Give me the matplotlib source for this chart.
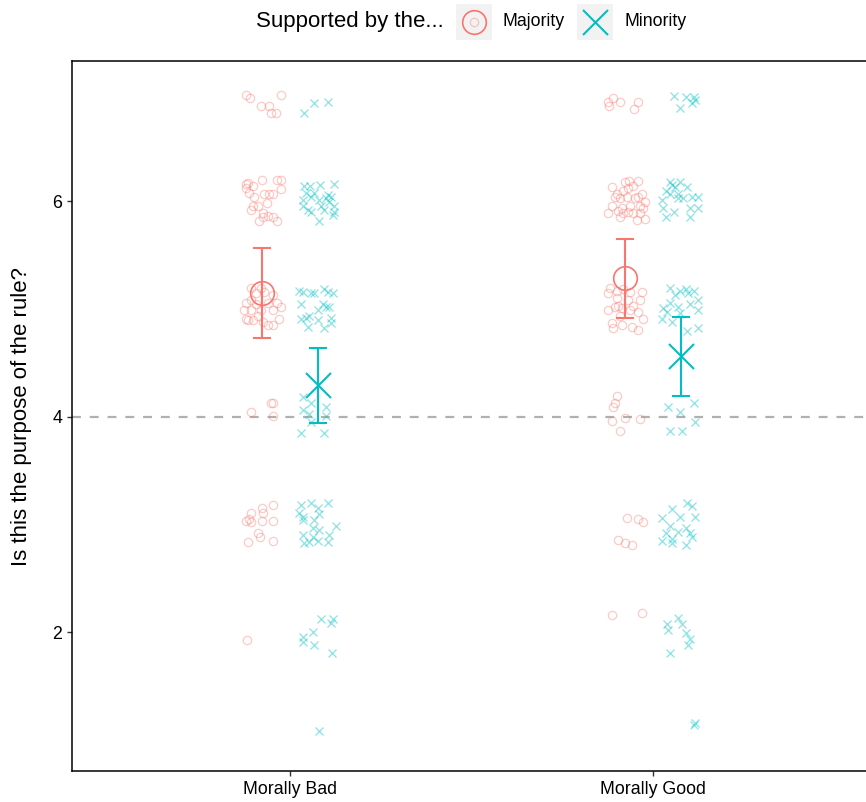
import numpy as np
import matplotlib.pyplot as plt
from matplotlib.lines import Line2D
from matplotlib.patches import Rectangle

plt.rcParams['font.family'] = ['Liberation Sans', 'DejaVu Sans']

# categories
conditions = ["Morally Bad", "Morally Good"]
groups = ["Majority", "Minority"]
colors = {"Majority": "#F8766D", "Minority": "#00BFC4"}

# group means and 95% CI
means = {("Morally Bad", "Majority"): 5.146, ("Morally Bad", "Minority"): 4.292,
         ("Morally Good", "Majority"): 5.285, ("Morally Good", "Minority"): 4.561}
ci_lo = {("Morally Bad", "Majority"): 4.729, ("Morally Bad", "Minority"): 3.940,
         ("Morally Good", "Majority"): 4.914, ("Morally Good", "Minority"): 4.190}
ci_hi = {("Morally Bad", "Majority"): 5.564, ("Morally Bad", "Minority"): 4.636,
         ("Morally Good", "Majority"): 5.647, ("Morally Good", "Minority"): 4.923}

# raw (jittered) responses: horizontal jitter and jittered rating
bad_maj_dx = [-0.046, -0.035, 0.051, -0.004, 0.018, 0.023, 0.037,
              -0.046, -0.046, -0.026, -0.002, 0.042, 0.051, 0.051, 0.004, 0.029, 0.018, -0.024, -0.026,
              -0.013, 0.012, -0.032, 0.001, 0.001, 0.015, 0.031, 0.042, -0.010, -0.040, -0.037,
              -0.032, -0.004, -0.046, -0.032, -0.018, 0.015, 0.042, 0.051, -0.051, -0.032, -0.004,
              0.029, -0.046, -0.026, 0.045, 0.015, 0.029, 0.004, -0.018, 0.031, -0.013, 0.001, -0.040,
              -0.032, 0.023, 0.031, 0.029,
              -0.002, 0.001, 0.031, -0.032, -0.046, -0.037, -0.032, -0.002, 0.029, -0.013, -0.007,
              -0.040, 0.029,
              -0.043]
bad_maj_y = [6.99, 6.96, 6.99, 6.88, 6.88, 6.82, 6.82,
             6.16, 6.12, 6.14, 6.20, 6.20, 6.20, 6.11, 6.07, 6.07, 6.07, 6.04, 5.96,
             5.96, 5.98, 5.92, 5.89, 5.85, 5.86, 5.85, 5.82, 5.82, 6.17, 6.08,
             5.20, 5.20, 5.06, 5.08, 5.05, 5.06, 5.06, 5.02, 4.99, 4.99, 4.99,
             4.99, 4.91, 4.90, 4.91, 4.85, 4.85, 5.16, 5.15, 5.13, 4.94, 4.88, 4.90,
             4.04, 4.13, 4.13, 4.01,
             3.15, 3.11, 3.18, 3.11, 3.03, 3.05, 3.02, 3.03, 3.03, 2.92, 2.88,
             2.84, 2.85,
             1.93]

bad_min_dx = [-0.011, 0.028, -0.039,
              -0.039, -0.022, 0.006, 0.044, -0.041, -0.019, -0.041, -0.028, 0.003, 0.022, 0.036,
              0.030, 0.008, 0.044, 0.003, 0.041, -0.033, -0.011, 0.017, 0.044, 0.028, -0.019,
              -0.052, -0.041, -0.019, 0.017, 0.041, 0.028, -0.047, 0.014, 0.022, 0.030, -0.025,
              -0.047, -0.033, 0.000, 0.017, 0.036, -0.028, 0.000, -0.011, 0.036,
              -0.041, -0.019, 0.022, -0.041, -0.025, 0.022, -0.019, -0.047, 0.017,
              -0.047, -0.019, 0.028, 0.000, -0.052, 0.003, -0.041, -0.041, -0.011, 0.050,
              -0.014, 0.003, -0.041, -0.014, 0.030, -0.039, 0.000, 0.028, -0.025,
              0.008, 0.041, 0.036, -0.014, -0.041, -0.041, -0.011, 0.039,
              0.003]
bad_min_y = [6.91, 6.92, 6.82,
             6.14, 6.14, 6.15, 6.16, 6.01, 6.04, 5.96, 5.92, 6.01, 6.03, 6.04,
             5.99, 5.96, 5.96, 5.82, 5.87, 6.08, 6.08, 5.92, 5.90, 6.06, 5.90,
             5.17, 5.16, 5.15, 5.19, 5.15, 5.16, 5.05, 5.05, 5.02, 5.02, 4.94,
             4.91, 4.92, 4.90, 4.82, 4.87, 4.83, 4.99, 5.15, 4.92,
             4.18, 4.13, 4.09, 4.06, 4.03, 4.01, 3.95, 3.85, 3.85,
             3.18, 3.20, 3.20, 3.15, 3.11, 3.10, 3.07, 3.04, 3.04, 2.99,
             2.97, 2.95, 2.90, 2.88, 2.90, 2.83, 2.85, 2.84, 2.84,
             2.12, 2.12, 2.09, 2.00, 1.96, 1.91, 1.88, 1.81,
             1.08]

good_maj_dx = [-0.047, -0.033, -0.014, -0.044, 0.036, 0.025,
               -0.036, 0.000, 0.011, 0.036, 0.022, -0.022, -0.006, 0.008, 0.047, 0.028, -0.014,
               0.036, 0.055, 0.041, 0.050, -0.036, -0.008, 0.014, -0.047, -0.019, -0.006, 0.008,
               0.022, 0.041, 0.033, 0.055, -0.014, -0.028, 0.006,
               -0.041, -0.022, -0.047, -0.006, 0.014, 0.047, -0.022, 0.008, 0.041, -0.047, -0.028,
               -0.008, 0.014, 0.036, -0.014, 0.050, -0.036, -0.008, 0.019, 0.036, -0.033, -0.019,
               0.022,
               -0.022, -0.028, -0.033, -0.036, 0.000, 0.041, -0.014,
               0.006, 0.036, 0.050, -0.019, 0.000, 0.019,
               -0.036, 0.047]
good_maj_y = [6.92, 6.96, 6.92, 6.88, 6.92, 6.86,
              6.13, 6.18, 6.19, 6.19, 6.14, 6.07, 6.10, 6.12, 6.07, 6.03, 6.03,
              6.04, 5.99, 5.96, 5.94, 5.96, 5.94, 5.96, 5.89, 5.91, 5.89, 5.90,
              5.89, 5.89, 5.83, 5.84, 5.85, 6.04, 6.04,
              5.20, 5.17, 5.15, 5.19, 5.16, 5.16, 5.10, 5.08, 5.08, 4.99, 5.02,
              5.01, 4.99, 4.97, 4.94, 4.91, 4.87, 4.85, 4.83, 4.81, 4.82, 5.03,
              5.03,
              4.19, 4.13, 4.09, 3.96, 3.99, 3.98, 3.87,
              3.06, 3.05, 3.02, 2.86, 2.83, 2.81,
              2.16, 2.18]

good_min_dx = [-0.020, 0.013, 0.035, -0.001, 0.032, 0.040,
               -0.029, -0.001, -0.042, -0.015, -0.023, 0.018, 0.032, 0.048, -0.009, 0.007, -0.051,
               -0.048, -0.020, -0.042, 0.026, 0.046, 0.026, -0.029, -0.007,
               -0.029, -0.001, 0.013, 0.035, -0.015, 0.021, -0.029, 0.046, -0.009, -0.048, -0.037,
               0.048, -0.051, -0.023, -0.001, 0.018, 0.048, 0.026,
               -0.034, -0.001, 0.035, 0.040, -0.029, 0.004,
               0.018, 0.032, -0.023, -0.051, -0.001, 0.040, -0.029, 0.013, -0.007, -0.042, 0.026,
               0.032, -0.023, -0.051, -0.023, 0.013,
               -0.037, -0.009, 0.004, -0.034, 0.013, 0.026, 0.021, -0.029,
               0.040, 0.035]
good_min_y = [6.98, 6.97, 6.97, 6.87, 6.91, 6.94,
              6.18, 6.18, 6.10, 6.13, 6.15, 6.13, 6.04, 6.04, 6.03, 6.03, 6.01,
              5.94, 5.90, 5.85, 5.85, 5.94, 5.94, 6.07, 6.07,
              5.20, 5.17, 5.19, 5.17, 5.13, 5.15, 5.06, 5.08, 5.02, 5.01, 4.97,
              4.99, 4.91, 4.88, 4.96, 4.80, 4.82, 5.05,
              4.09, 4.04, 4.13, 3.95, 3.87, 3.87,
              3.20, 3.17, 3.14, 3.06, 3.07, 3.07, 2.99, 2.97, 2.93, 2.92, 2.92,
              2.88, 2.87, 2.85, 2.83, 2.81,
              2.08, 2.13, 2.08, 2.02, 1.99, 1.94, 1.88, 1.81,
              1.16, 1.14]

raw = {("Morally Bad", "Majority"): (bad_maj_dx, bad_maj_y),
       ("Morally Bad", "Minority"): (bad_min_dx, bad_min_y),
       ("Morally Good", "Majority"): (good_maj_dx, good_maj_y),
       ("Morally Good", "Minority"): (good_min_dx, good_min_y)}

W, H = 866, 802
fig = plt.figure(figsize=(W / 100, H / 100), dpi=100)
ax = fig.add_axes([72 / W, 31 / H, 798.7 / W, 710 / H])

dodge = {"Majority": -0.076, "Minority": 0.077}

ax.axhline(4, color="#B0B0B0", lw=1.6, linestyle=(0, (4, 4)), zorder=1)

for ci, cond in enumerate(conditions):
    for g in groups:
        key = (cond, g)
        dx, yv = raw[key]
        xc = ci + 1 + dodge[g]
        xs = xc + np.array(dx)
        col = colors[g]
        if g == "Majority":
            ax.plot(xs, yv, linestyle="none", marker="o", ms=6, mfc="none",
                    mec=col, mew=0.9, alpha=0.38, zorder=2)
        else:
            ax.plot(xs, yv, linestyle="none", marker="x", ms=6, mec=col,
                    mew=0.9, alpha=0.45, zorder=2)
        m = means[key]
        ax.errorbar([xc], [m], yerr=[[m - ci_lo[key]], [ci_hi[key] - m]], fmt="none",
                    ecolor=col, elinewidth=1.5, capsize=6.5, capthick=1.5, zorder=3)
        if g == "Majority":
            ax.plot([xc], [m], marker="o", ms=17, mfc="none", mec=col, mew=1.2, zorder=4)
        else:
            ax.plot([xc], [m], marker="x", ms=18, mec=col, mew=1.5, zorder=4)

ax.set_xlim(0.4, 2.6)
ax.set_ylim(0.713, 7.302)
ax.set_xticks([1, 2])
ax.set_xticklabels(conditions)
ax.set_yticks([2, 4, 6])
ax.tick_params(axis="both", labelsize=12.8, colors="#333333", length=3.5, width=1.0,
               labelcolor="black")
ax.set_ylabel("Is this the purpose of the rule?", fontsize=16, labelpad=15)
for s in ax.spines.values():
    s.set_linewidth(1.1)
    s.set_color("black")

# legend drawn by hand at the top
def fx(px):
    return px / W

def fy(py):
    return 1 - py / H

fig.text(fx(256), fy(22), "Supported by the...", fontsize=16, va="center", ha="left")
for g, bx, lx in [("Majority", 456, 503), ("Minority", 577, 624)]:
    fig.add_artist(Rectangle((fx(bx), fy(40)), 36 / W, 36 / H, transform=fig.transFigure,
                             facecolor="#F2F2F2", edgecolor="none"))
    cx, cy = fx(bx + 18), fy(22)
    col = colors[g]
    if g == "Majority":
        fig.add_artist(Line2D([cx], [cy], marker="o", ms=17, mfc="none", mec=col, mew=1.2,
                              transform=fig.transFigure))
        fig.add_artist(Line2D([cx], [cy], marker="o", ms=6, mfc="none", mec=col, mew=0.9,
                              alpha=0.38, transform=fig.transFigure))
    else:
        fig.add_artist(Line2D([cx], [cy], marker="x", ms=18, mec=col, mew=1.5,
                              transform=fig.transFigure))
    fig.text(fx(lx), fy(22), g, fontsize=12.8, va="center", ha="left")

fig.savefig("out.png", dpi=100)
